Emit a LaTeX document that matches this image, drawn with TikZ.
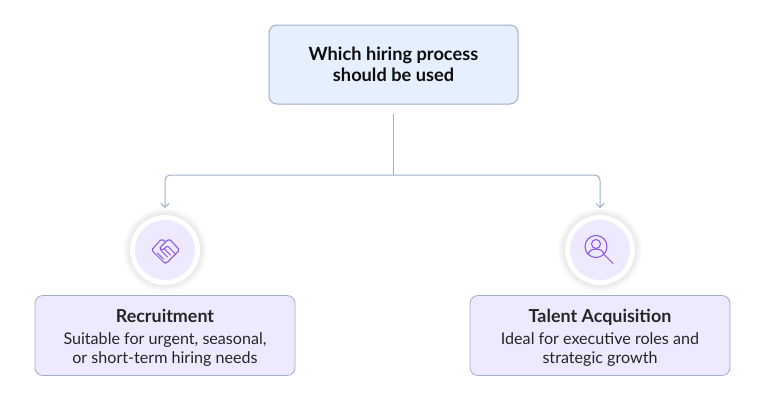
\documentclass[tikz,border=0pt]{standalone}
\usepackage{fontspec}
\setmainfont{Lato}
\usetikzlibrary{arrows.meta}
\definecolor{linegray}{HTML}{9FAFC9}
\definecolor{rootfill}{HTML}{E6EFFD}
\definecolor{cardfill}{HTML}{EDE9FE}
\definecolor{iconline}{HTML}{8B55E0}
\tikzset{
  rootbox/.style={draw=linegray,fill=rootfill,rounded corners=8pt,line width=1pt,minimum width=249pt,minimum height=79pt,align=center,font=\fontsize{18.2}{21.5}\selectfont\bfseries,text=black!95},
  cardbox/.style={draw=linegray,fill=cardfill,rounded corners=8pt,line width=.8pt,minimum width=260pt,minimum height=80pt,align=center,font=\fontsize{16.1}{19.5}\selectfont,text=black!85},
  iconcircle/.style={circle,fill=cardfill,minimum size=60pt,inner sep=0pt},
  link/.style={draw=linegray,line width=1pt,rounded corners=5pt},
  iconstroke/.style={draw=iconline,line width=1.05pt,line join=round,line cap=round}
}
\newcommand{\cardtitle}[1]{{\fontsize{17.9}{21}\selectfont\bfseries\rule{0pt}{18.5pt}#1}}
\begin{document}
\begin{tikzpicture}[x=1pt,y=-1pt,>={Straight Barb[length=4pt,width=8pt]}]
        \useasboundingbox (0,0) rectangle (765,400);
        \fill [white] (0,0) rectangle (765,400);
        \node [rootbox] (root) at (393.5,64.5) {Which hiring process\\should be used};
        \node [cardbox] (recruit) at (165,335.5) {\cardtitle{Recruitment}\\[2pt]Suitable for urgent, seasonal,\\or short-term hiring needs};
        \node [cardbox] (talent) at (600,335.5) {\cardtitle{Talent Acquisition}\\[2pt]Ideal for executive roles and\\strategic growth};
        % icon discs, the glow is a stack of faint circles
        \foreach \cx/\name in {165/recruiticon,600/talenticon} {
          \foreach \r in {42,41,40,39,38,37,36}
            \fill [black,opacity=.012] (\cx,250) circle (\r);
          \fill [white] (\cx,250) circle (35);
          \node [iconcircle] (\name) at (\cx,250) {};
        }
        \coordinate (trunk) at (393.5,114);
        \coordinate (split) at (393.5,175);
        \coordinate (recruittip) at (165,208);
        \coordinate (talenttip) at (600,208);
        \draw [link] (trunk) -- (split);
        \draw [link,->] (split) -| (recruittip);
        \draw [link,->] (split) -| (talenttip);
        % handshake
        \begin{scope}[shift={(165.5,250)},iconstroke]
          \draw [rounded corners=1.5pt] (-14,0) -- (-4,-11) -- (0,-8) -- (4,-11) -- (14,0) -- (1,13) -- (-1,13) -- cycle;
          \draw [rounded corners=1pt] (0,-8) -- (-6,-2) -- (-3,0) -- (2,-4) -- (10,4);
          \draw (-8,3) -- (-2,9);
          \draw (-5,0) -- (2,7);
          \draw (-1,-1) -- (5,5);
        \end{scope}
        % search person
        \begin{scope}[shift={(596,246.5)},iconstroke]
          \draw (0,0) circle (11);
          \draw (0,-2.5) circle (4.5);
          \draw (-8,7.5) .. controls (-6,3) and (-3,2.5) .. (0,2.5) .. controls (3,2.5) and (6,3) .. (8,7.5);
          \draw (8,8) -- (17,17);
        \end{scope}
        \end{tikzpicture}
\end{document}
